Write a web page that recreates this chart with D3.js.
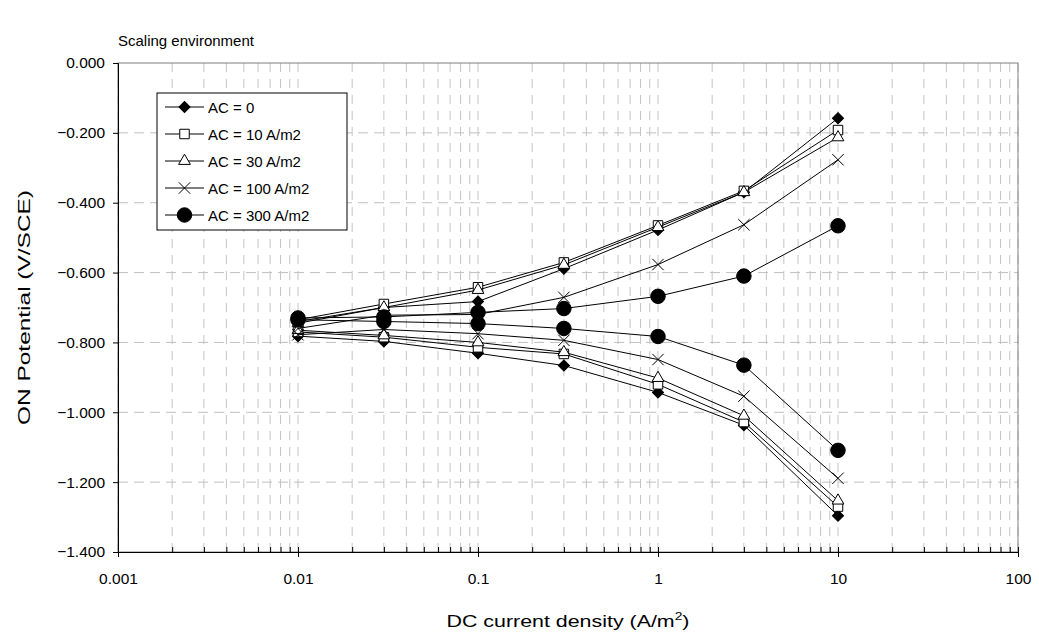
<!DOCTYPE html>
<html lang="en">
<head>
<meta charset="utf-8">
<title>Scaling environment</title>
<script src="https://d3js.org/d3.v7.min.js"></script>
<style>
  body { margin: 0; background: #fff; }
  text { font-family: Arial, "Liberation Sans", sans-serif; fill: #000; }
  .tick text { font-size: 15.5px; }
</style>
</head>
<body>
<div id="vis"></div>
<script>
// DC current density steps (A/m2)
const currents = [0.01, 0.03, 0.1, 0.3, 1, 3, 10];

// ON potential, V/SCE - upper and lower branch for each AC level
const ac0Up     = [-0.740, -0.700, -0.683, -0.589, -0.478, -0.370, -0.158];
const ac0Down   = [-0.782, -0.797, -0.831, -0.866, -0.943, -1.037, -1.296];
const ac10Up    = [-0.735, -0.690, -0.642, -0.571, -0.465, -0.366, -0.192];
const ac10Down  = [-0.770, -0.785, -0.814, -0.833, -0.920, -1.028, -1.270];
const ac30Up    = [-0.745, -0.700, -0.650, -0.578, -0.470, -0.370, -0.213];
const ac30Down  = [-0.765, -0.780, -0.800, -0.828, -0.902, -1.010, -1.253];
const ac100Up   = [-0.760, -0.722, -0.720, -0.671, -0.577, -0.463, -0.277];
const ac100Down = [-0.778, -0.763, -0.775, -0.794, -0.849, -0.954, -1.189];
const ac300Up   = [-0.730, -0.727, -0.714, -0.703, -0.668, -0.610, -0.466];
const ac300Down = [-0.735, -0.740, -0.746, -0.760, -0.783, -0.865, -1.109];

const seriesNames = ["AC = 0", "AC = 10 A/m2", "AC = 30 A/m2", "AC = 100 A/m2", "AC = 300 A/m2"];
const xTicks = [0.001, 0.01, 0.1, 1, 10, 100];
const yTicks = [0, -0.2, -0.4, -0.6, -0.8, -1.0, -1.2, -1.4];

const width = 1039, height = 632;
const plotLeft = 118, plotRight = 1018, plotTop = 63, plotBottom = 552;

const svg = d3.select("#vis").append("svg")
  .attr("width", width).attr("height", height)
  .style("background", "#fff");

const x = d3.scaleLog().domain([0.001, 100]).range([plotLeft, plotRight]);
const y = d3.scaleLinear().domain([-1.4, 0]).range([plotBottom, plotTop]);

// minor log positions 1..9 per decade
const minor = [];
for (let e = -3; e < 2; e++) {
  for (let k = 1; k <= 9; k++) minor.push(k * Math.pow(10, e));
}
minor.push(100);

// vertical grid
svg.append("g").selectAll("line").data(minor).join("line")
  .attr("x1", d => x(d)).attr("x2", d => x(d))
  .attr("y1", plotTop).attr("y2", plotBottom)
  .attr("stroke", "#c4c4c4").attr("stroke-dasharray", "9,7");

// horizontal grid
svg.append("g").selectAll("line").data(yTicks.slice(1, -1)).join("line")
  .attr("x1", plotLeft).attr("x2", plotRight)
  .attr("y1", d => y(d)).attr("y2", d => y(d))
  .attr("stroke", "#c0c0c0").attr("stroke-dasharray", "10,6");

// plot frame
svg.append("rect")
  .attr("x", plotLeft).attr("y", plotTop)
  .attr("width", plotRight - plotLeft).attr("height", plotBottom - plotTop)
  .attr("fill", "none").attr("stroke", "#808080");

// axes
const yAxis = svg.append("g")
  .attr("transform", "translate(" + plotLeft + ",0)")
  .call(d3.axisLeft(y).tickValues(yTicks).tickSize(5).tickPadding(8).tickFormat(d3.format(".3f")));
yAxis.select(".domain").attr("stroke", "#000");
yAxis.selectAll(".tick text").text(d => d === 0 ? "0.000" : d3.format(".3f")(d));

const xMinor = svg.append("g")
  .attr("transform", "translate(0," + plotBottom + ")")
  .call(d3.axisBottom(x).tickValues(minor).tickSize(-5).tickFormat(""));
xMinor.select(".domain").remove();

const xAxis = svg.append("g")
  .attr("transform", "translate(0," + plotBottom + ")")
  .call(d3.axisBottom(x).tickValues(xTicks).tickSize(5).tickPadding(16)
    .tickFormat(d => d < 1 ? d3.format("")(d) : d3.format("d")(d)));
xAxis.select(".domain").attr("stroke", "#000");

// markers
const xShape = {
  draw(ctx, size) {
    const r = Math.sqrt(size) / 2;
    ctx.moveTo(-r, -r); ctx.lineTo(r, r);
    ctx.moveTo(-r, r); ctx.lineTo(r, -r);
  }
};
const markers = [
  { type: d3.symbolSquare, size: 62, rotate: 45, fill: "#000" },
  { type: d3.symbolSquare, size: 90, rotate: 0, fill: "#fff" },
  { type: d3.symbolTriangle, size: 60, rotate: 0, fill: "#fff" },
  { type: xShape, size: 130, rotate: 0, fill: "none" },
  { type: d3.symbolCircle, size: 165, rotate: 0, fill: "#000" }
];

const series = [
  [ac0Up, ac0Down], [ac10Up, ac10Down], [ac30Up, ac30Down],
  [ac100Up, ac100Down], [ac300Up, ac300Down]
];

const line = d3.line().x(d => x(d[0])).y(d => y(d[1]));

series.forEach((branches, i) => {
  const m = markers[i];
  const g = svg.append("g");
  branches.forEach(vals => {
    const pts = currents.map((c, j) => [c, vals[j]]);
    g.append("path").datum(pts).attr("d", line)
      .attr("fill", "none").attr("stroke", "#000").attr("stroke-width", 1);
    g.selectAll(null).data(pts).join("path")
      .attr("d", d3.symbol().type(m.type).size(m.size))
      .attr("transform", d => "translate(" + x(d[0]) + "," + y(d[1]) + ") rotate(" + m.rotate + ")")
      .attr("fill", m.fill).attr("stroke", "#000").attr("stroke-width", 1);
  });
});

// legend
const lg = svg.append("g");
lg.append("rect").attr("x", 157).attr("y", 93).attr("width", 190).attr("height", 137)
  .attr("fill", "#fff").attr("stroke", "#000");
seriesNames.forEach((name, i) => {
  const ly = 107 + i * 27;
  const m = markers[i];
  lg.append("line").attr("x1", 165).attr("x2", 204).attr("y1", ly).attr("y2", ly)
    .attr("stroke", "#000");
  lg.append("path").attr("d", d3.symbol().type(m.type).size(m.size))
    .attr("transform", "translate(184.5," + ly + ") rotate(" + m.rotate + ")")
    .attr("fill", m.fill).attr("stroke", "#000");
  lg.append("text").attr("x", 208).attr("y", ly + 5.5)
    .style("font-size", "15px").text(name);
});

// titles
svg.append("text").attr("x", 118).attr("y", 46)
  .style("font-size", "15px").text("Scaling environment");

const xt = svg.append("text").attr("x", (plotLeft + plotRight) / 2).attr("y", 627)
  .attr("text-anchor", "middle").style("font-size", "17px")
  .attr("textLength", 243).attr("lengthAdjust", "spacingAndGlyphs");
xt.append("tspan").text("DC current density (A/m");
xt.append("tspan").attr("dy", -7).style("font-size", "11px").text("2");
xt.append("tspan").attr("dy", 7).text(")");

svg.append("text")
  .attr("transform", "translate(30," + ((plotTop + plotBottom) / 2) + ") rotate(-90)")
  .attr("text-anchor", "middle").style("font-size", "17px")
  .attr("textLength", 235).attr("lengthAdjust", "spacingAndGlyphs")
  .text("ON Potential (V/SCE)");
</script>
</body>
</html>
